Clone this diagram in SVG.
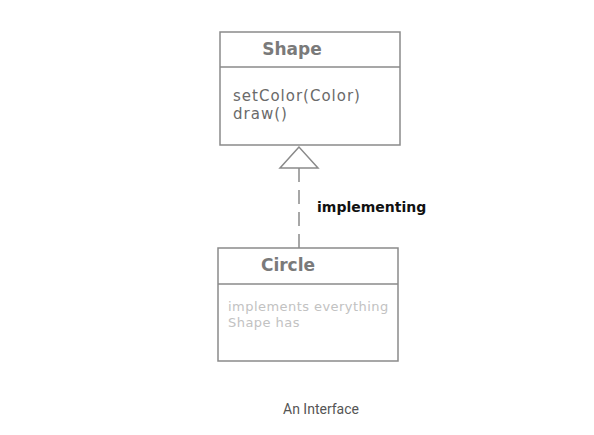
<svg xmlns="http://www.w3.org/2000/svg" width="594" height="435" viewBox="0 0 594 435">
<style>
.box{fill:#fff;stroke:#8a8a8a;stroke-width:1.5}
.div{stroke:#8a8a8a;stroke-width:1.5}
.title{font-family:"DejaVu Sans","Open Sans",sans-serif;font-weight:bold;font-size:17px;fill:#7a7a7a;text-anchor:middle}
.m{font-family:"DejaVu Sans","Open Sans",sans-serif;font-size:15px;letter-spacing:1px;fill:#6a6a6a}
.n{font-family:"DejaVu Sans","Open Sans",sans-serif;font-size:13px;letter-spacing:0.45px;fill:#c2c2c2}
.lbl{font-family:"DejaVu Sans","Open Sans",sans-serif;font-weight:bold;font-size:14px;fill:#111}
.cap{font-family:Roboto,"Liberation Sans",sans-serif;font-size:14px;fill:#555;text-anchor:middle}
</style>
<rect width="594" height="435" fill="#fff"/>
<g id="connectors">
<line x1="299" y1="168" x2="299" y2="248" stroke="#8a8a8a" stroke-width="1.5" stroke-dasharray="14,8"/>
<polygon points="299,147 280,168 318,168" fill="#fff" stroke="#8a8a8a" stroke-width="1.5"/>
<text class="lbl" x="317" y="212">implementing</text>
</g>
<g id="shape">
<rect class="box" x="220" y="32" width="180" height="113"/>
<line class="div" x1="220" y1="67" x2="400" y2="67"/>
<text class="title" x="292" y="55">Shape</text>
<text class="m" x="233" y="101">setColor(Color)</text>
<text class="m" x="233" y="119">draw()</text>
</g>
<g id="circle">
<rect class="box" x="218" y="248" width="180" height="113"/>
<line class="div" x1="218" y1="284" x2="398" y2="284"/>
<text class="title" x="288" y="271">Circle</text>
<text class="n" x="228" y="311">implements everything</text>
<text class="n" x="228" y="327">Shape has</text>
</g>
<text class="cap" x="321" y="414">An Interface</text>
</svg>
